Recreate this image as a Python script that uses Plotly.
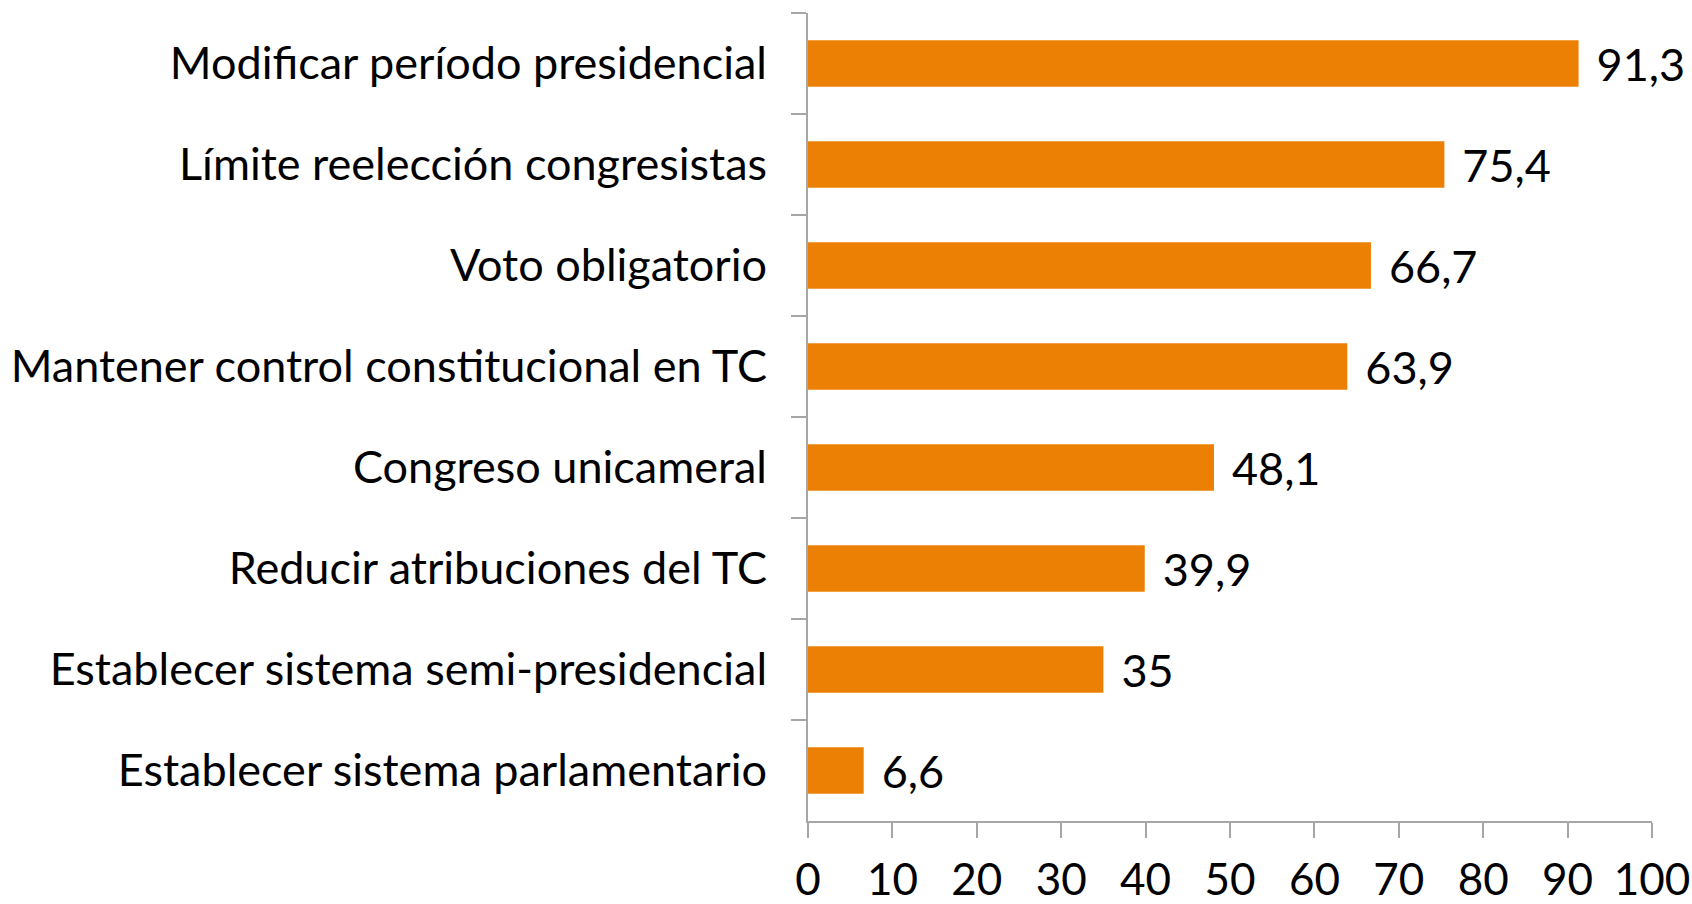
import plotly.graph_objects as go

categories = [
    "Modificar período presidencial",
    "Límite reelección congresistas",
    "Voto obligatorio",
    "Mantener control constitucional en TC",
    "Congreso unicameral",
    "Reducir atribuciones del TC",
    "Establecer sistema semi-presidencial",
    "Establecer sistema parlamentario",
]
values = [91.3, 75.4, 66.7, 63.9, 48.1, 39.9, 35, 6.6]
x_ticks = [0, 10, 20, 30, 40, 50, 60, 70, 80, 90, 100]

labels = ["\u2004" + (f"{v:g}".replace(".", ",")) for v in values]

FONT = "Lato"
ORANGE = "#EC8004"
GRAY = "#A6A6A6"

fig = go.Figure(go.Bar(
    y=categories, x=values, orientation="h",
    marker=dict(color=ORANGE, line=dict(width=0)),
    text=labels, textposition="outside", cliponaxis=False,
    constraintext="none",
    textfont=dict(family=FONT, size=45, color="black"),
    width=0.46,
))

fig.update_layout(
    width=1692, height=904,
    margin=dict(l=808, r=40, t=13, b=83),
    plot_bgcolor="white", paper_bgcolor="white",
    showlegend=False,
    font=dict(family=FONT, color="black"),
    bargap=0.54,
)
fig.update_xaxes(
    range=[0, 100], tickvals=x_ticks, showgrid=False, zeroline=False,
    showline=True, linecolor=GRAY, linewidth=2,
    ticks="outside", ticklen=15, tickcolor=GRAY, tickwidth=2,
    tickfont=dict(family=FONT, size=44, color="black"),
    ticklabelstandoff=4, automargin=False,
)
fig.update_yaxes(
    autorange="reversed", showgrid=False,
    showline=True, linecolor=GRAY, linewidth=2,
    ticks="outside", ticklen=15, tickcolor=GRAY, tickwidth=2,
    tickson="boundaries",
    tickfont=dict(family=FONT, size=45, color="black"),
    ticklabelstandoff=30, automargin=False,
)

fig.write_html(
    "out.html",
    config={"displayModeBar": False},
    post_script="document.body.style.margin='0';document.body.style.overflow='hidden';",
)
